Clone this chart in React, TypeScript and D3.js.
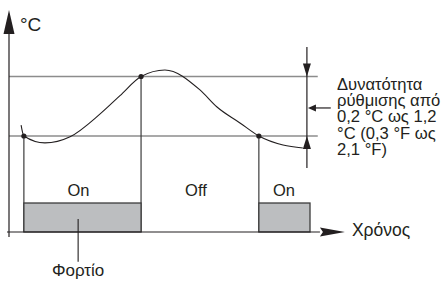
import * as d3 from 'd3';

// temperature curve (time units 0-100, temperature in arbitrary units)
const curveTime = [3.9, 4.8, 11.6, 19.7, 29.4, 35.8, 42.6, 50.3, 61.6, 67.1, 74.5, 80.6, 88.4, 94.8];
const curveTemp = [5.57, 5.0, 4.64, 4.96, 6.15, 7.1, 8.1, 8.44, 7.4, 6.51, 5.68, 5.0, 4.53, 4.375];

// switching points (cut-in / cut-out)
const switchTime = [4.8, 42.6, 80.6];
const switchTemp = [5.0, 8.1, 5.0];

// thresholds
const thresholds = [5.0, 8.1];

// load bars
const loadStart = [4.8, 80.6];
const loadEnd = [42.6, 97.1];
const loadLevel = 1.51;

// relay state labels
const stateLabels = ['On', 'Off', 'On'];
const stateTimes = [22.4, 60.3, 88.7];

const noteLines = ['Δυνατότητα', 'ρύθμισης από', '0,2 °C ως 1,2', '°C (0,3 °F ως', '2,1 °F)'];

const W = 443;
const H = 282;
const ink = '#231f20';
const font = '"Liberation Sans", Arial, sans-serif';

export default function App() {
  const x = d3.scaleLinear().domain([0, 100]).range([9, 319]);
  const y = d3.scaleLinear().domain([0, 10]).range([232, 40]);

  const pts = curveTime.map((t, i) => [t, curveTemp[i]] as [number, number]);
  const line = d3
    .line<[number, number]>()
    .x((d) => x(d[0]))
    .y((d) => y(d[1]))
    .curve(d3.curveMonotoneX);

  const x0 = x(0);
  const y0 = y(0);
  const yTop = y(11.56);
  const xEnd = x(100.3);

  // dimension line
  const dimX = x(96.1);
  const upY = y(thresholds[1]);
  const loY = y(thresholds[0]);
  const ptrY = y(6.46);

  return (
    <svg
      width={W}
      height={H}
      style={{ position: 'absolute', left: 0, top: 0, background: '#fff' }}
      fontFamily={font}
    >
      {/* threshold lines */}
      {thresholds.map((v) => (
        <line key={v} x1={x0} x2={x(99.6)} y1={y(v)} y2={y(v)} stroke="#8c8c8c" strokeWidth={1.5} />
      ))}

      {/* vertical drop lines from switching points */}
      {switchTime.map((t, i) => (
        <line key={i} x1={x(t)} x2={x(t)} y1={y(switchTemp[i])} y2={y0} stroke="#3c3c3c" strokeWidth={1.2} />
      ))}

      {/* load bars */}
      {loadStart.map((s, i) => (
        <rect
          key={i}
          x={x(s)}
          y={y(loadLevel)}
          width={x(loadEnd[i]) - x(s)}
          height={y0 - y(loadLevel)}
          fill="#bcbec0"
          stroke="#3c3c3c"
          strokeWidth={1.3}
        />
      ))}

      {/* axes */}
      <line x1={x0} x2={x0} y1={yTop + 10} y2={y0 + 5} stroke={ink} strokeWidth={1.2} />
      <line x1={x0 - 2} x2={xEnd} y1={y0} y2={y0} stroke={ink} strokeWidth={1.2} />
      <path d={`M${x0},${yTop} L${x0 + 5.5},${yTop + 24} L${x0 - 5.5},${yTop + 24} Z`} fill={ink} />
      <path d={`M${xEnd + 25},${y0} L${xEnd},${y0 - 4.5} L${xEnd + 3},${y0} L${xEnd},${y0 + 4.5} Z`} fill={ink} />

      {/* temperature curve */}
      <path d={line(pts) ?? ''} fill="none" stroke={ink} strokeWidth={1.1} />
      {switchTime.map((t, i) => (
        <circle key={i} cx={x(t)} cy={y(switchTemp[i])} r={2.6} fill={ink} />
      ))}

      {/* differential dimension */}
      <line x1={dimX} x2={dimX} y1={y(9.64)} y2={y(3.33)} stroke={ink} strokeWidth={1.2} />
      <path d={`M${dimX},${upY} L${dimX - 4},${upY - 13} L${dimX + 4},${upY - 13} Z`} fill={ink} />
      <path d={`M${dimX},${loY} L${dimX - 4},${loY + 13} L${dimX + 4},${loY + 13} Z`} fill={ink} />
      <line x1={dimX + 8} x2={x(103.8)} y1={ptrY} y2={ptrY} stroke={ink} strokeWidth={1.2} />
      <path d={`M${dimX + 1},${ptrY} L${dimX + 9},${ptrY - 3.5} L${dimX + 9},${ptrY + 3.5} Z`} fill={ink} />

      {/* load pointer */}
      <line x1={x(22.3)} x2={x(22.3)} y1={y(0.68)} y2={y(-1.55)} stroke={ink} strokeWidth={1.1} />

      {/* texts */}
      <text x={x0 + 11} y={yTop + 21} fontSize={19} fill={ink}>
        °C
      </text>
      {stateLabels.map((s, i) => (
        <text key={i} x={x(stateTimes[i])} y={y(1.88)} fontSize={16.5} textAnchor="middle" fill={ink}>
          {s}
        </text>
      ))}
      <text x={x(22.3)} y={y(-2.31)} fontSize={17} textAnchor="middle" fill={ink}>
        Φορτίο
      </text>
      <text x={xEnd + 32} y={y(-0.2)} fontSize={17.5} fill={ink}>
        Χρόνος
      </text>
      {noteLines.map((s, i) => (
        <text key={i} x={337} y={89.5 + i * 16.4} fontSize={16.6} fill={ink}>
          {s}
        </text>
      ))}
    </svg>
  );
}
